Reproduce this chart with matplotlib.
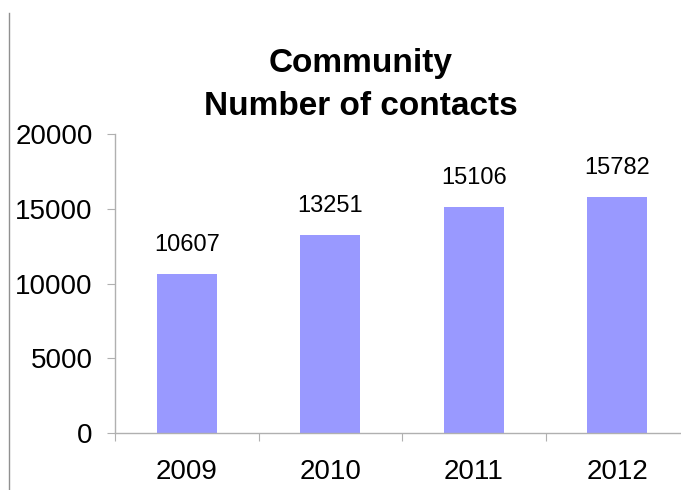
import matplotlib
matplotlib.use('Agg')
import matplotlib.pyplot as plt
from matplotlib.lines import Line2D

years = ['2009', '2010', '2011', '2012']
contacts = [10607, 13251, 15106, 15782]
yticks = [0, 5000, 10000, 15000, 20000]

plt.rcParams['font.family'] = ['Liberation Sans', 'DejaVu Sans']

fig = plt.figure(figsize=(6.81, 4.90), dpi=100)
ax = fig.add_axes([115 / 681, 57 / 490, 574 / 681, 299 / 490])

x = range(len(years))
ax.bar(x, contacts, width=0.42, color='#9999ff', edgecolor='none')
for xi, v in zip(x, contacts):
    ax.annotate(str(v), (xi, v), xytext=(0, 13), textcoords='offset points',
                ha='center', va='bottom', fontsize=17)

ax.set_xlim(-0.5, len(years) - 0.5)
ax.set_ylim(0, 20000)
ax.set_yticks(yticks)
ax.set_yticklabels([str(t) for t in yticks], fontsize=20)
# category boundaries get the tick marks, centres get the labels
ax.set_xticks([i - 0.5 for i in range(len(years) + 1)])
ax.set_xticklabels([''] * (len(years) + 1))
ax.set_xticks(list(x), minor=True)
ax.set_xticklabels(years, minor=True, fontsize=20)
ax.tick_params(axis='x', which='minor', length=0, pad=19)
ax.tick_params(axis='x', which='major', length=6, color='#b0b0b0', direction='out')
ax.tick_params(axis='y', length=6, color='#b0b0b0', direction='out', pad=10)

for s in ['top', 'right']:
    ax.spines[s].set_visible(False)
for s in ['left', 'bottom']:
    ax.spines[s].set_color('#b0b0b0')
    ax.spines[s].set_linewidth(1)

fig.text(361 / 681, 1 - 72 / 490, 'Community', ha='center', va='baseline',
         fontsize=24, fontweight='bold')
fig.text(361 / 681, 1 - 115 / 490, 'Number of contacts', ha='center', va='baseline',
         fontsize=24, fontweight='bold')

# thin frame line at the left edge
fig.add_artist(Line2D([9 / 681, 9 / 681], [0, 1 - 13 / 490], transform=fig.transFigure,
                      color='#909090', linewidth=1))

fig.savefig('out.png', dpi=100)
